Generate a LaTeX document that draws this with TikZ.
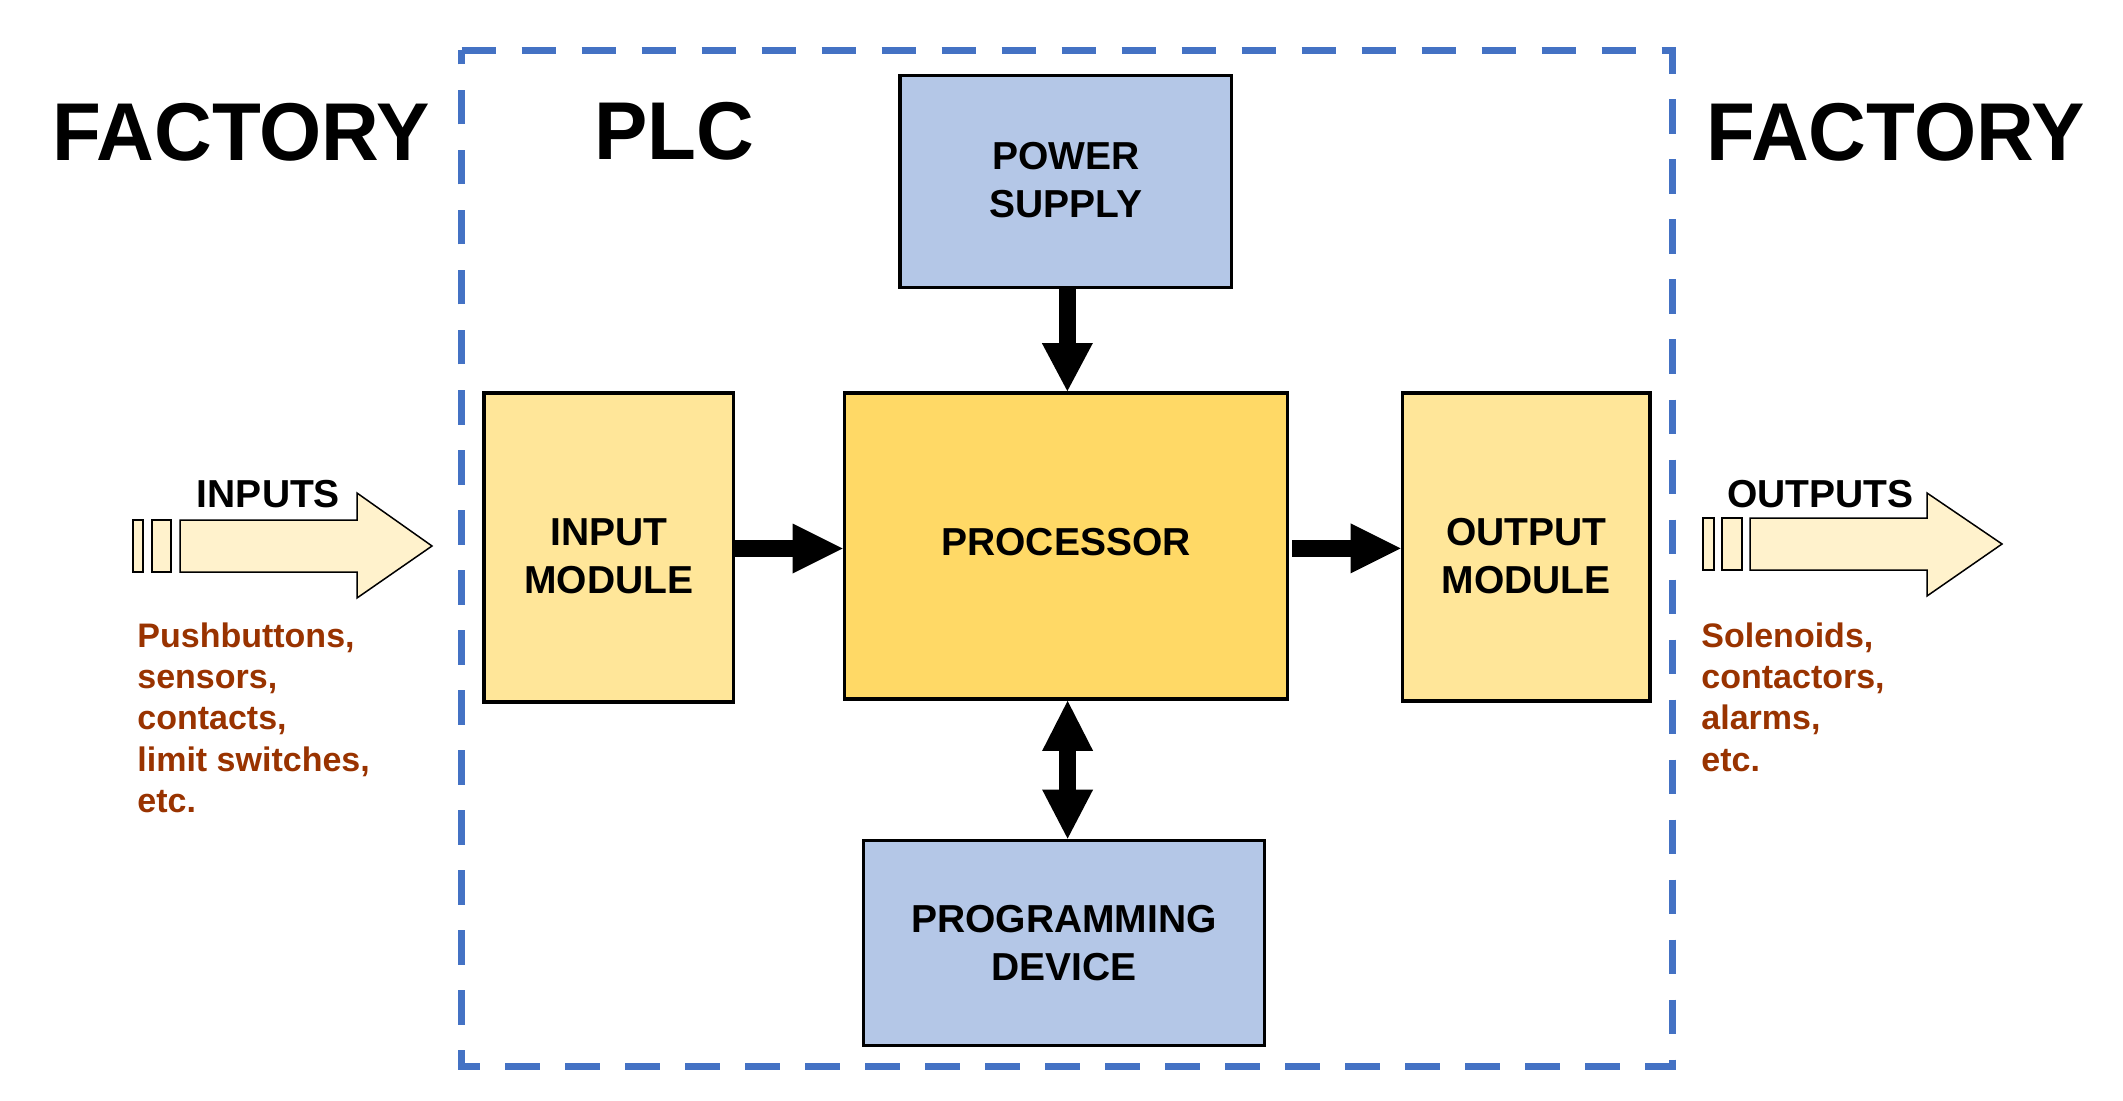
\documentclass[tikz,border=0pt]{standalone}
\usepackage{fontspec}
\setmainfont{Liberation Sans}
\newfontfamily\titlefont[FakeStretch=0.975]{Liberation Sans}
\usetikzlibrary{arrows.meta}
\definecolor{psblue}{HTML}{B4C7E7}
\definecolor{modyellow}{HTML}{FFE699}
\definecolor{procyellow}{HTML}{FFD966}
\definecolor{plcblue}{HTML}{4472C4}
\definecolor{ioarrow}{HTML}{FFF2CC}
\definecolor{devred}{HTML}{993300}
\newcommand{\boxtxt}[2]{\raisebox{#1}[\height][\depth]{\begin{tabular}{@{}c@{}}#2\end{tabular}}}
\begin{document}
\begin{tikzpicture}[x=0.5pt,y=-0.5pt,
  box/.style={draw=black, line width=1.9pt, rectangle, inner sep=0pt,
    font=\fontsize{19.5}{24}\selectfont\bfseries},
  blk/.style={draw=black, line width=8.5pt},
  title/.style={inner sep=0pt, anchor=base, font=\titlefont\fontsize{41}{45}\selectfont\bfseries},
  iolabel/.style={inner sep=0pt, anchor=base, font=\fontsize{19.5}{24}\selectfont\bfseries},
  devlist/.style={inner sep=0pt, anchor=north west, align=left, text=devred,
    font=\fontsize{17}{20.7}\selectfont\bfseries},
  ioshape/.style={draw=black, line width=0.75pt, fill=ioarrow, line join=miter},
  plcframe/.style={draw=plcblue, line width=3.5pt, dash pattern=on 17.25pt off 12.75pt}
]
\useasboundingbox (0,0) rectangle (2123,1101);
\fill[white] (0,0) rectangle (2123,1101);

% PLC frame
\draw[plcframe] (461.5,50.5) -- (1672.5,50.5) -- (1672.5,1066.5) -- (461.5,1066.5) -- cycle;

% titles
\node[title] (factoryL) at (241,161) {FACTORY};
\node[title] (plc) at (674.5,160) {PLC};
\node[title] (factoryR) at (1895.5,161) {FACTORY};

% blocks
\node[box, fill=psblue, minimum width=165.75pt, minimum height=106pt] (power) at (1065.75,181.5) {\boxtxt{-1.4pt}{POWER\\SUPPLY}};
\node[box, fill=modyellow, minimum width=124.75pt, minimum height=154.5pt] (inmod) at (608.75,547.5) {\boxtxt{-6pt}{INPUT\\MODULE}};
\node[box, fill=procyellow, minimum width=221.5pt, minimum height=153pt] (proc) at (1066,546) {\boxtxt{0pt}{PROCESSOR}};
\node[box, fill=modyellow, minimum width=123.75pt, minimum height=154.25pt] (outmod) at (1526.25,547) {\boxtxt{-6.3pt}{OUTPUT\\MODULE}};
\node[box, fill=psblue, minimum width=200.5pt, minimum height=102.5pt] (prog) at (1064,943) {\boxtxt{-2pt}{PROGRAMMING\\DEVICE}};

% block arrows
\draw[blk, -{Triangle[length=24pt,width=25.5pt,line width=0pt]}]
  ([xshift=0.8pt]power.south) -- ([xshift=0.8pt]power.south |- proc.north);
\draw[blk, -{Triangle[length=25pt,width=25pt,line width=0pt]}]
  ([yshift=-0.5pt]inmod.east) -- ([yshift=-0.5pt]inmod.east -| proc.west);
\draw[blk, -{Triangle[length=25pt,width=25pt,line width=0pt]}, shorten <=1.5pt]
  ([yshift=-1.2pt]proc.east) -- ([yshift=-1.2pt]proc.east -| outmod.west);
\draw[blk, {Triangle[length=25pt,width=25.5pt,line width=0pt]}-{Triangle[length=24.5pt,width=25.5pt,line width=0pt]}]
  ([xshift=0.8pt]proc.south) -- ([xshift=0.8pt]proc.south |- prog.north);

% INPUTS arrow
\draw[ioshape] (133,520) rectangle (143,572);
\draw[ioshape] (152,520) rectangle (171,572);
\draw[ioshape] (180,520) -- (357,520) -- (357,493) -- (432,546) -- (357,598) -- (357,572) -- (180,572) -- cycle;
\node[iolabel] (inlabel) at (268.5,507) {INPUTS};

% OUTPUTS arrow
\draw[ioshape] (1703,518) rectangle (1714,570);
\draw[ioshape] (1722,518) rectangle (1742,570);
\draw[ioshape] (1750,518) -- (1927,518) -- (1927,493) -- (2002,544) -- (1927,596) -- (1927,570) -- (1750,570) -- cycle;
\node[iolabel] (outlabel) at (1820.5,507) {OUTPUTS};

% device lists
\node[devlist] (inlist) at (137,622) {Pushbuttons,\\sensors,\\contacts,\\limit switches,\\etc.};
\node[devlist] (outlist) at (1701,622) {Solenoids,\\contactors,\\alarms,\\etc.};
\end{tikzpicture}
\end{document}
